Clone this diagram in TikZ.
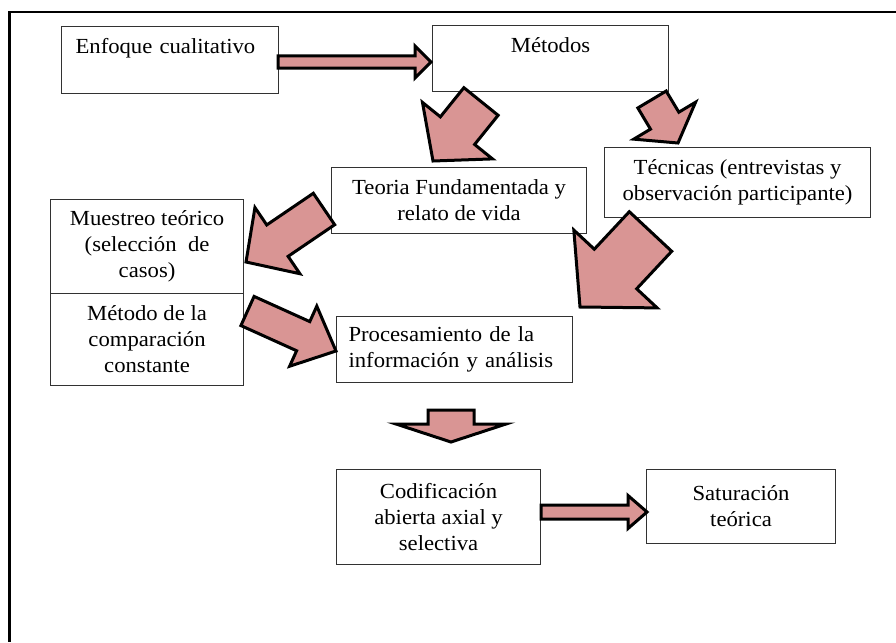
\documentclass[tikz,border=0pt]{standalone}
\usepackage{fontspec}
\setmainfont{Liberation Serif}[FakeStretch=1.055]
\usetikzlibrary{calc}
\definecolor{arrowpink}{RGB}{217,149,148}
\definecolor{boxline}{RGB}{50,50,50}
\tikzset{
  box/.style={draw=boxline, line width=1.1pt, fill=white, inner sep=0pt, align=center,
    font=\fontsize{21.5pt}{26pt}\selectfont, anchor=north west},
  blockarrow/.style={draw=black, line width=3pt, fill=arrowpink, line join=miter},
  frameline/.style={draw=black, line width=2.8pt},
}
% #1 start (back centre), #2 tip, #3 half shaft width, #4 half head width, #5 head length
\newcommand{\blockarr}[5]{%
  \coordinate (ba-n) at ($(#2)!#5!(#1)$);
  \draw[blockarrow] ($(#1)!#3!90:(#2)$) -- ($(ba-n)!#3!90:(#2)$) -- ($(ba-n)!#4!90:(#2)$)
    -- (#2) -- ($(ba-n)!#4!-90:(#2)$) -- ($(ba-n)!#3!-90:(#2)$) -- ($(#1)!#3!-90:(#2)$) -- cycle;
}
\begin{document}
\begin{tikzpicture}[x=1pt,y=-1pt]
\useasboundingbox (0,0) rectangle (896,642);
\draw[frameline] (896,12) -- (9.5,12) -- (9.5,642);

% boxes
\node[box, text width=189pt, align=left, inner xsep=14pt, text height=27pt, text depth=40pt] (enfoque) at (61,26) {Enfoque cualitativo};
\node[box, text width=236pt, text height=27pt, text depth=39pt] (metodos) at (432,25) {Métodos};
\node[box, minimum width=255pt, minimum height=66pt] (teoria) at (331,167) {Teoria Fundamentada y\\relato de vida};
\node[box, minimum width=266pt, minimum height=70pt] (tecnicas) at (604,147) {Técnicas (entrevistas y\\observación participante)};
\node[box, minimum width=193pt, minimum height=94pt] (muestreo) at (50,199) {Muestreo teórico\\(selección~~de\\casos)};
\node[box, minimum width=193pt, minimum height=92pt] (metodo) at (50,293) {Método de la\\comparación\\constante};
\node[box, text width=212pt, align=left, inner xsep=12pt, minimum height=66pt] (proc) at (336,316) {Procesamiento de la\\información y análisis};
\node[box, minimum width=204pt, minimum height=95pt] (codif) at (336,469) {Codificación\\abierta axial y\\selectiva};
\node[box, minimum width=189pt, minimum height=74pt] (satur) at (646,469) {Saturación\\teórica};

% block arrows
\coordinate (a1s) at (278,62);     \coordinate (a1e) at (431,62);
\coordinate (a2s) at (481,101.5);  \coordinate (a2e) at (433,161);
\coordinate (a3s) at (652,99.5);   \coordinate (a3e) at (678,143);
\coordinate (a4s) at (324,209);    \coordinate (a4e) at (246,262);
\coordinate (a5s) at (650.5,231.5);\coordinate (a5e) at (580,307);
\coordinate (a6s) at (247.5,311);  \coordinate (a6e) at (336,351);
\coordinate (a7s) at (451,410);    \coordinate (a7e) at (451,442);
\coordinate (a8s) at (541,512);    \coordinate (a8e) at (647,512);

\blockarr{a1s}{a1e}{6pt}{16pt}{16pt}
\blockarr{a2s}{a2e}{22pt}{45pt}{39pt}
\blockarr{a3s}{a3e}{16.5pt}{36pt}{26pt}
\blockarr{a4s}{a4e}{19pt}{40pt}{38pt}
\blockarr{a5s}{a5e}{29pt}{57pt}{52pt}
\blockarr{a6s}{a6e}{16pt}{33pt}{36pt}
\blockarr{a7s}{a7e}{23pt}{55pt}{18pt}
\blockarr{a8s}{a8e}{7pt}{16.5pt}{19pt}
\end{tikzpicture}
\end{document}
